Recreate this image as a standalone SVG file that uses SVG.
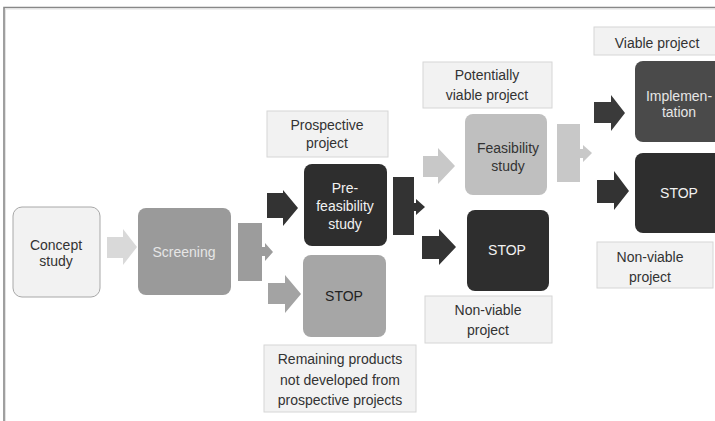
<svg xmlns="http://www.w3.org/2000/svg" width="715" height="421" viewBox="0 0 715 421">
<style>
text{font-family:"Liberation Sans",Arial,sans-serif;font-size:14px;text-anchor:middle}
.lbl rect{fill:#f2f2f2;stroke:#d6d6d6;stroke-width:1}
.lbl text{fill:#333}
.wt{fill:#f2f2f2}
</style>
<rect width="715" height="421" fill="#fff"/>
<path d="M4,421 V7.5 H715" fill="none" stroke="#888" stroke-width="1.6"/>
<path d="M5.5,421 V9 H715" fill="none" stroke="#e2e2e2" stroke-width="1"/>
<g id="connectors">
<polygon fill="#d9d9d9" points="107,237 123,237 123,229 137,247 123,265 123,258 107,258"/>
<polygon fill="#9c9c9c" points="238,223 262,223 262,247 265,247 265,243 273,252 265,261 265,256 262,256 262,281 238,281"/>
<polygon fill="#333" points="267,193 283,193 283,190 298,208 283,226 283,218 267,218"/>
<polygon fill="#a3a3a3" points="268,283 285,283 285,275 301,294 285,313 285,304 268,304"/>
<polygon fill="#333" points="393,177 414,177 414,203 416,203 416,199 425,207 416,215 416,211 414,211 414,235 393,235"/>
<polygon fill="#c8c8c8" points="423,156 438,156 438,148 455,166 438,184 438,177 423,177"/>
<polygon fill="#333" points="422,236 439,236 439,229 456,247 439,265 439,259 422,259"/>
<polygon fill="#c8c8c8" points="557,124 580,124 580,149 583,149 583,145 592,153 583,162 583,158 580,158 580,182 557,182"/>
<polygon fill="#3a3a3a" points="594,102 611,102 611,95 625,113 611,131 611,123 594,123"/>
<polygon fill="#333" points="597,180 614,180 614,171 629,191 614,210 614,203 597,203"/>
</g>
<g id="concept">
<rect x="13" y="207" width="87" height="90" rx="9" fill="#f2f2f2" stroke="#a8a8a8" stroke-width="1"/>
<text x="56" y="250" font-size="13.5" fill="#333">Concept</text>
<text x="56" y="266" font-size="13.5" fill="#333">study</text>
</g>
<g id="screening">
<rect x="138" y="208" width="93" height="87" rx="8" fill="#9a9a9a"/>
<text x="184" y="257" fill="#e6e6e6">Screening</text>
</g>
<g id="prefeasibility">
<rect x="304" y="164" width="83" height="82" rx="8" fill="#2e2e2e"/>
<text x="345" y="193" class="wt">Pre-</text>
<text x="345" y="211" class="wt">feasibility</text>
<text x="345" y="229" class="wt">study</text>
</g>
<g id="stop1">
<rect x="303" y="255" width="83" height="82" rx="8" fill="#a6a6a6"/>
<text x="344" y="301" font-size="15" fill="#222">STOP</text>
</g>
<g id="feasibility">
<rect x="465" y="114" width="82" height="81" rx="8" fill="#bfbfbf"/>
<text x="508" y="153" fill="#333">Feasibility</text>
<text x="508" y="171" fill="#333">study</text>
</g>
<g id="stop2">
<rect x="467" y="210" width="82" height="81" rx="8" fill="#2e2e2e"/>
<text x="507" y="255" font-size="15" class="wt">STOP</text>
</g>
<g id="implementation">
<rect x="635" y="61" width="90" height="81" rx="8" fill="#4a4a4a"/>
<text x="679" y="101" font-size="12" fill="#e6e6e6">Implemen-</text>
<text x="679" y="117" font-size="12.5" fill="#e6e6e6">tation</text>
</g>
<g id="stop3">
<rect x="635" y="153" width="90" height="80" rx="8" fill="#2e2e2e"/>
<text x="679" y="198" font-size="15" class="wt">STOP</text>
</g>
<g id="label-prospective" class="lbl">
<rect x="267" y="111" width="121" height="46"/>
<text x="327" y="130">Prospective</text>
<text x="327" y="148">project</text>
</g>
<g id="label-remaining" class="lbl">
<rect x="264" y="345" width="152" height="67"/>
<text x="340" y="364">Remaining products</text>
<text x="340" y="385">not developed from</text>
<text x="340" y="405">prospective projects</text>
</g>
<g id="label-potentially" class="lbl">
<rect x="423" y="62" width="129" height="46"/>
<text x="487" y="80">Potentially</text>
<text x="487" y="100">viable project</text>
</g>
<g id="label-nonviable1" class="lbl">
<rect x="425" y="296" width="127" height="47"/>
<text x="488" y="315">Non-viable</text>
<text x="488" y="335">project</text>
</g>
<g id="label-viable" class="lbl">
<rect x="594" y="27" width="125" height="28"/>
<text x="657" y="48">Viable project</text>
</g>
<g id="label-nonviable2" class="lbl">
<rect x="597" y="242" width="116" height="46"/>
<text x="650" y="262">Non-viable</text>
<text x="650" y="282">project</text>
</g>
</svg>
